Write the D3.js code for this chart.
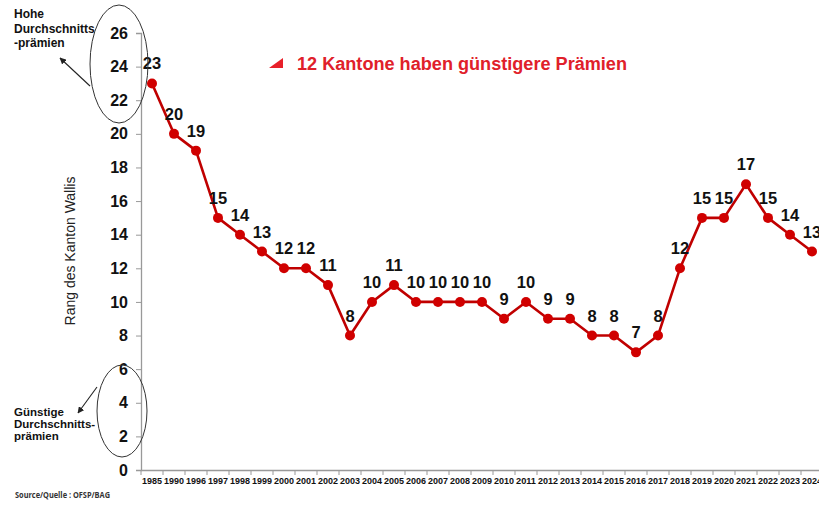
<!DOCTYPE html>
<html><head><meta charset="utf-8">
<script src="https://cdn.jsdelivr.net/npm/d3@7"></script>
<style>body{margin:0;background:#fff}svg{display:block}</style>
</head><body>
<script>
const years = ["1985","1990","1996","1997","1998","1999","2000","2001","2002","2003","2004","2005","2006","2007","2008","2009","2010","2011","2012","2013","2014","2015","2016","2017","2018","2019","2020","2021","2022","2023","2024"];
const ranks = [23,20,19,15,14,13,12,12,11,8,10,11,10,10,10,10,9,10,9,9,8,8,7,8,12,15,15,17,15,14,13];
const yTicks = [0,2,4,6,8,10,12,14,16,18,20,22,24,26];
const titleText = "12 Kantone haben günstigere Prämien";
const yTitle = "Rang des Kanton Wallis";
const topNote = ["Hohe","Durchschnitts","-prämien"];
const bottomNote = ["Günstige","Durchschnitts-","prämien"];
const sourceText = "Source/Quelle : OFSP/BAG";

const W = 819, H = 507;
const svg = d3.select("body").append("svg").attr("width", W).attr("height", H);
const font = "Liberation Sans, Arial, sans-serif";

const x = d3.scaleBand().domain(years).range([141, 823]).padding(0);
const y = d3.scaleLinear().domain([0, 26]).range([470, 33]);

// y axis
const ya = svg.append("g").attr("transform", "translate(141,0)")
  .call(d3.axisLeft(y).tickValues(yTicks).tickSize(5).tickPadding(8));
ya.select(".domain").attr("stroke", "#999").attr("stroke-width", 1.3);
ya.selectAll(".tick line").attr("stroke", "#999");
ya.selectAll(".tick text").attr("font-family", font).attr("font-weight", "bold").attr("font-size", 16).attr("fill", "#111");

// x axis
const xa = svg.append("g").attr("transform", "translate(0,470)")
  .call(d3.axisBottom(x).tickSize(0).tickPadding(8));
xa.select(".domain").attr("stroke", "#999").attr("stroke-width", 1.3);
xa.selectAll(".tick text").attr("font-family", font).attr("font-weight", "bold").attr("font-size", 9).attr("fill", "#111")
  .attr("textLength", 20).attr("lengthAdjust", "spacingAndGlyphs");
// category boundary ticks
svg.append("g").selectAll("line").data(years).join("line")
  .attr("x1", d => x(d)).attr("x2", d => x(d)).attr("y1", 470).attr("y2", 475)
  .attr("stroke", "#999");

// y title
svg.append("text").attr("transform", "translate(75,251) rotate(-90)")
  .attr("text-anchor", "middle").attr("font-family", font).attr("font-size", 14).attr("fill", "#222")
  .text(yTitle);

// line
const cx = d => x(d) + x.bandwidth() / 2;
const line = d3.line().x((d, i) => cx(years[i])).y(d => y(d));
svg.append("path").datum(ranks).attr("d", line)
  .attr("fill", "none").attr("stroke", "#c00000").attr("stroke-width", 2.6).attr("stroke-linejoin", "round");
svg.append("g").selectAll("circle").data(ranks).join("circle")
  .attr("cx", (d, i) => cx(years[i])).attr("cy", d => y(d)).attr("r", 5)
  .attr("fill", "#d00000");
svg.append("g").selectAll("text").data(ranks).join("text")
  .attr("x", (d, i) => cx(years[i])).attr("y", d => y(d) - 14)
  .attr("text-anchor", "middle").attr("font-family", font).attr("font-weight", "bold").attr("font-size", 16.5).attr("fill", "#111")
  .text(d => d);

// title
svg.append("path").attr("d", "M269,68 L283,58 L283,68 Z").attr("fill", "#e8202a");
svg.append("text").attr("x", 297).attr("y", 70).attr("font-family", font).attr("font-weight", "bold")
  .attr("font-size", 18).attr("fill", "#e0202a").attr("textLength", 330).attr("lengthAdjust", "spacingAndGlyphs").text(titleText);

// ellipses
svg.append("ellipse").attr("cx", 119).attr("cy", 64).attr("rx", 29).attr("ry", 59)
  .attr("fill", "none").attr("stroke", "#333").attr("stroke-width", 1);
svg.append("ellipse").attr("cx", 122).attr("cy", 411).attr("rx", 25).attr("ry", 46)
  .attr("fill", "none").attr("stroke", "#333").attr("stroke-width", 1);

// arrows
const defs = svg.append("defs");
defs.append("marker").attr("id", "ah").attr("viewBox", "0 0 10 10").attr("refX", 9).attr("refY", 5)
  .attr("markerWidth", 6).attr("markerHeight", 6).attr("orient", "auto")
  .append("path").attr("d", "M0,0 L10,5 L0,10 Z").attr("fill", "#222");
svg.append("line").attr("x1", 90).attr("y1", 86).attr("x2", 60).attr("y2", 58)
  .attr("stroke", "#222").attr("stroke-width", 1.1).attr("marker-end", "url(#ah)");
svg.append("line").attr("x1", 97).attr("y1", 387).attr("x2", 78).attr("y2", 413)
  .attr("stroke", "#222").attr("stroke-width", 1.1).attr("marker-end", "url(#ah)");

// notes
svg.append("g").selectAll("text").data(topNote).join("text")
  .attr("x", 14).attr("y", (d, i) => 18 + i * 14.5)
  .attr("font-family", font).attr("font-weight", "bold").attr("font-size", 12).attr("fill", "#111").text(d => d);
svg.append("g").selectAll("text").data(bottomNote).join("text")
  .attr("x", 14).attr("y", (d, i) => 416 + i * 12)
  .attr("font-family", font).attr("font-weight", "bold").attr("font-size", 11.5).attr("fill", "#111").text(d => d);

svg.append("text").attr("x", 15).attr("y", 498).attr("font-family", "Open Sans, sans-serif").attr("font-weight", "bold")
  .attr("font-size", 9).attr("fill", "#333").attr("textLength", 95).attr("lengthAdjust", "spacingAndGlyphs").text(sourceText);
</script>
</body></html>
